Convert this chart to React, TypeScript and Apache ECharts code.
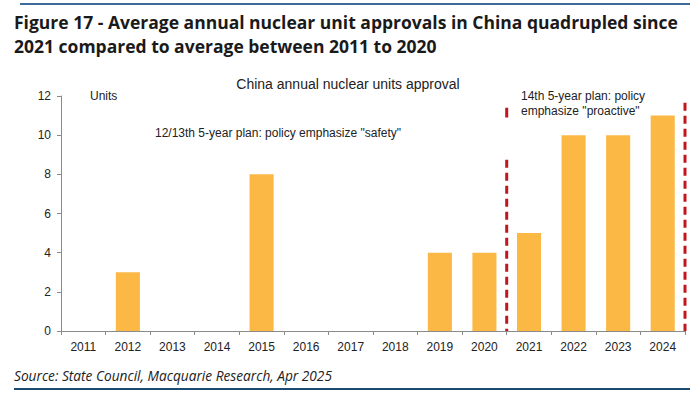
import React, { useEffect, useRef } from "react";
import * as echarts from "echarts";

const years = ["2011", "2012", "2013", "2014", "2015", "2016", "2017", "2018", "2019", "2020", "2021", "2022", "2023", "2024"];
const approvals = [0, 3, 0, 0, 8, 0, 0, 0, 4, 4, 5, 10, 10, 11];
const yTicks = [0, 2, 4, 6, 8, 10, 12];
const planBoundary = 10; // position (in category units) between 2020 and 2021
const planEnd = 14;

const titleLine1 = "Figure 17 - Average annual nuclear unit approvals in China quadrupled since";
const titleLine2 = "2021 compared to average between 2011 to 2020";
const chartTitle = "China annual nuclear units approval";
const unitLabel = "Units";
const plan1Label = '12/13th 5-year plan: policy emphasize "safety"';
const plan2Label = '14th 5-year plan: policy\nemphasize "proactive"';
const sourceText = "Source: State Council, Macquarie Research, Apr 2025";

export default function App() {
  const ref = useRef<HTMLDivElement>(null);
  useEffect(() => {
    if (!ref.current) return;
    const chart = echarts.init(ref.current, null, { renderer: "svg" });
    const font = "'Liberation Sans', Arial, sans-serif";
    const dashStyle = { color: "#C0161E", width: 3, type: [8, 5] as any };
    chart.setOption({
      animation: false,
      backgroundColor: "#ffffff",
      grid: { left: 61, right: 11, top: 96, bottom: 65, containLabel: false },
      xAxis: [
        {
          type: "category",
          data: years,
          axisLine: { lineStyle: { color: "#8a8a8a", width: 1 } },
          axisTick: { show: true, alignWithLabel: false, length: 4, lineStyle: { color: "#8a8a8a" } },
          axisLabel: { color: "#222", fontFamily: font, fontSize: 12, margin: 10 },
        },
        {
          type: "value",
          min: 0,
          max: 14,
          show: false,
        },
      ],
      yAxis: {
        type: "value",
        min: 0,
        max: 12,
        interval: 2,
        axisLine: { show: true, lineStyle: { color: "#8a8a8a", width: 1 } },
        axisTick: { show: true, length: 4, lineStyle: { color: "#8a8a8a" } },
        splitLine: { show: false },
        axisLabel: {
          color: "#222",
          fontFamily: font,
          fontSize: 12,
          margin: 10,
          formatter: (v: number) => (yTicks.includes(v) ? String(v) : ""),
        },
      },
      series: [
        {
          type: "bar",
          data: approvals,
          barWidth: "54%",
          itemStyle: { color: "#FBB844" },
          xAxisIndex: 0,
        },
        {
          type: "line",
          xAxisIndex: 1,
          data: [[planBoundary, 11.4], [planBoundary, 10.9]],
          lineStyle: { ...dashStyle, type: "solid" },
          symbol: "none",
        },
        {
          type: "line",
          xAxisIndex: 1,
          data: [[planBoundary, 8.75], [planBoundary, 0]],
          lineStyle: dashStyle,
          symbol: "none",
        },
        {
          type: "line",
          xAxisIndex: 1,
          data: [[planEnd, 11.65], [planEnd, 0]],
          lineStyle: dashStyle,
          symbol: "none",
        },
      ],
      graphic: [
        { type: "rect", shape: { x: 20, y: 3, width: 670, height: 2 }, style: { fill: "#3D6A96" } },
        {
          type: "text",
          left: 14,
          top: 10,
          style: {
            text: titleLine1 + "\n" + titleLine2,
            font: "bold 17.5px 'Open Sans', Lato, sans-serif",
            fill: "#1a1a1a",
            lineHeight: 24,
          },
        },
        {
          type: "text",
          left: "center",
          top: 77,
          style: { text: chartTitle, font: "14px " + font, fill: "#222" },
        },
        {
          type: "text",
          left: 90,
          top: 90,
          style: { text: unitLabel, font: "12px " + font, fill: "#222" },
        },
        {
          type: "text",
          left: 155,
          top: 127,
          style: { text: plan1Label, font: "12px " + font, fill: "#222" },
        },
        {
          type: "text",
          left: 521,
          top: 88,
          style: { text: plan2Label, font: "12px " + font, fill: "#222", lineHeight: 15 },
        },
        {
          type: "text",
          left: 14,
          top: 368,
          style: { text: sourceText, font: "italic 13.7px 'Open Sans', Lato, sans-serif", fill: "#222" },
        },
        { type: "rect", shape: { x: 14, y: 388, width: 676, height: 2 }, style: { fill: "#1B4B72" } },
      ],
    });
    return () => chart.dispose();
  }, []);
  return <div ref={ref} style={{ position: "fixed", left: 0, top: 0, width: 696, height: 396 }} />;
}
